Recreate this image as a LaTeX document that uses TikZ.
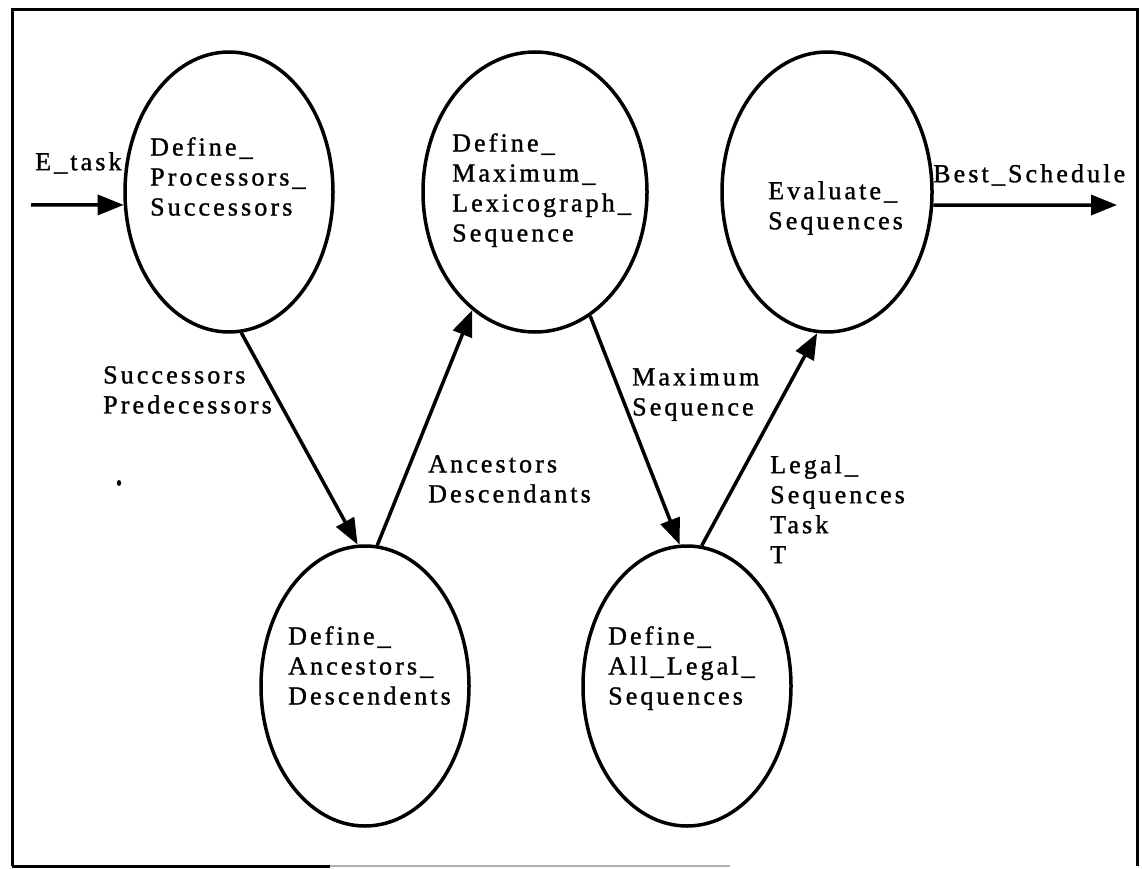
\documentclass[tikz,border=0pt]{standalone}
\usepackage{fontspec}
\setmainfont{Liberation Serif}
\newfontfamily\labelfont[LetterSpace=12,FakeBold=1.2]{Liberation Serif}
\usetikzlibrary{shapes.geometric,arrows.meta}

\tikzset{
  process/.style={draw, ellipse, line width=3.5pt, inner sep=0pt,
    minimum width=208pt, minimum height=280pt},
  flowtext/.style={anchor=north west, inner sep=0pt, align=left,
    font={\labelfont\fontsize{26}{30}\selectfont}},
  flow/.style={line width=3.5pt, -{Triangle[length=26pt,width=20pt]}},
  frame/.style={line width=3pt}
}

\begin{document}
\begin{tikzpicture}[x=1pt,y=-1pt]
\useasboundingbox (0,0) rectangle (1142,869);

% outer frame
\draw[frame] (12,866) -- (12,10) -- (1137,10) -- (1137,866);
\draw[frame] (12,866) -- (330,866);
\draw[line width=1.5pt, gray!60] (330,866) -- (730,866);

% processes
\node[process] (procsucc) at (229,192) {};
\node[process, minimum width=224pt] (maxlex) at (535,192) {};
\node[process, minimum width=210pt] (evaluate) at (827,192) {};
\node[process] (ancdesc) at (365,686) {};
\node[process] (legal) at (687,686) {};

% process names
\node[flowtext] (procsucctext) at (150,137) {Define\_\\Processors\_\\Successors};
\node[flowtext] (maxlextext) at (452,133) {Define\_\\Maximum\_\\Lexicograph\_\\Sequence};
\node[flowtext] (evaluatetext) at (768,181) {Evaluate\_\\Sequences};
\node[flowtext] (ancdesctext) at (288,626) {Define\_\\Ancestors\_\\Descendents};
\node[flowtext] (legaltext) at (608,626) {Define\_\\All\_Legal\_\\Sequences};

% external input and output
\coordinate (input) at (31,205);
\coordinate (output) at (1117,205);
\draw[flow] (input) -- (procsucc.187);
\draw[flow] (evaluate.-7) -- (output);

% data flows between processes
\draw[flow] (procsucc.-85.5) -- (ancdesc.93.2);
\draw[flow] (ancdesc.85) -- (maxlex.242.7);
\draw[flow] (maxlex.-66.7) -- (legal.93.7);
\draw[flow] (legal.84.7) -- (evaluate.-94.1);

% flow labels
\node[flowtext] (etask) at (35,152) {E\_task};
\node[flowtext] (best) at (933,164) {Best\_Schedule};
\node[flowtext] (succpred) at (103,366) {Successors\\Predecessors};
\node[flowtext] (ancdescflow) at (428,455) {Ancestors\\Descendants};
\node[flowtext] (maxseq) at (632,368) {Maximum\\Sequence};
\node[flowtext] (legalflow) at (770,455) {Legal\_\\Sequences\\Task\\T};

% speck
\fill (119,483) ellipse (2.2 and 3);
\end{tikzpicture}
\end{document}
